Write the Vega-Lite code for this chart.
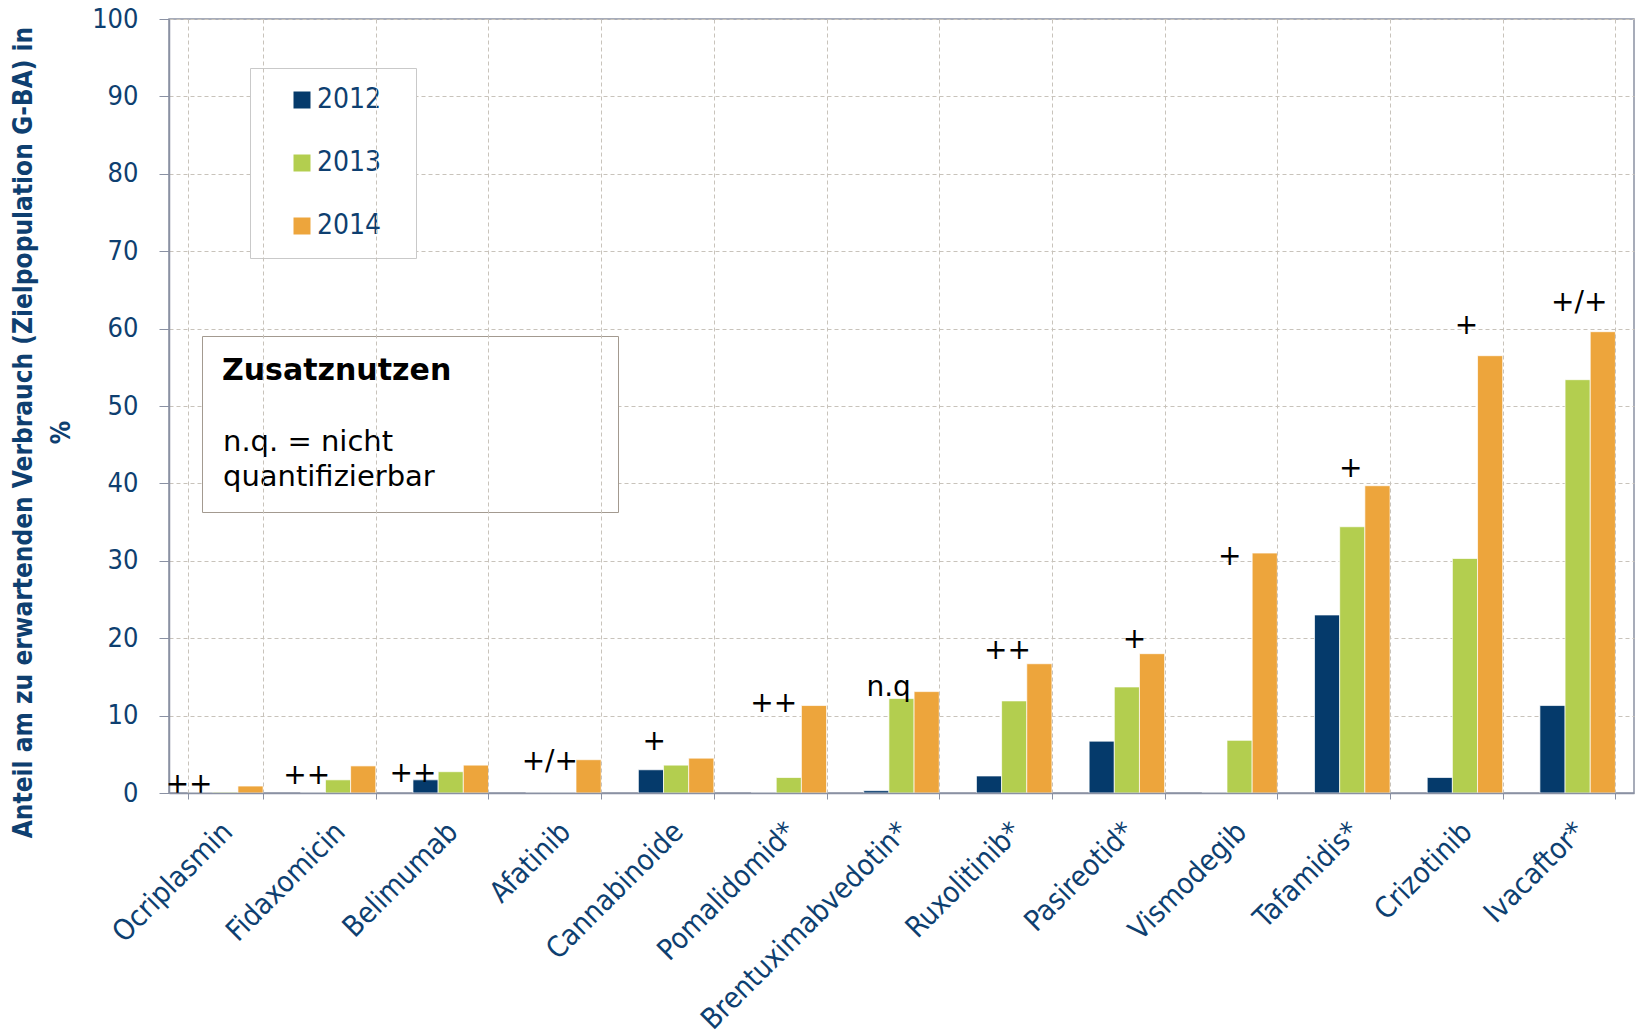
{
  "$schema": "https://vega.github.io/schema/vega-lite/v6.json",
  "width": 1465,
  "height": 774,
  "autosize": {"type": "none"},
  "padding": {"left": 169, "top": 19, "right": 3, "bottom": 242},
  "background": "white",
  "config": {"font": "DejaVu Sans", "view": {"stroke": "#8a91a3", "strokeWidth": 1.5}},
  "datasets": {
    "bars": [
      {"drug": "Ocriplasmin", "year": "2012", "value": 0},
      {"drug": "Ocriplasmin", "year": "2013", "value": 0.1},
      {"drug": "Ocriplasmin", "year": "2014", "value": 0.9},
      {"drug": "Fidaxomicin", "year": "2012", "value": 0},
      {"drug": "Fidaxomicin", "year": "2013", "value": 1.7},
      {"drug": "Fidaxomicin", "year": "2014", "value": 3.5},
      {"drug": "Belimumab", "year": "2012", "value": 1.7},
      {"drug": "Belimumab", "year": "2013", "value": 2.75},
      {"drug": "Belimumab", "year": "2014", "value": 3.6},
      {"drug": "Afatinib", "year": "2012", "value": 0},
      {"drug": "Afatinib", "year": "2013", "value": 0},
      {"drug": "Afatinib", "year": "2014", "value": 4.3},
      {"drug": "Cannabinoide", "year": "2012", "value": 3.0},
      {"drug": "Cannabinoide", "year": "2013", "value": 3.6},
      {"drug": "Cannabinoide", "year": "2014", "value": 4.5},
      {"drug": "Pomalidomid*", "year": "2012", "value": 0},
      {"drug": "Pomalidomid*", "year": "2013", "value": 2.0},
      {"drug": "Pomalidomid*", "year": "2014", "value": 11.3},
      {"drug": "Brentuximabvedotin*", "year": "2012", "value": 0.3},
      {"drug": "Brentuximabvedotin*", "year": "2013", "value": 12.2},
      {"drug": "Brentuximabvedotin*", "year": "2014", "value": 13.1},
      {"drug": "Ruxolitinib*", "year": "2012", "value": 2.2},
      {"drug": "Ruxolitinib*", "year": "2013", "value": 11.9},
      {"drug": "Ruxolitinib*", "year": "2014", "value": 16.7},
      {"drug": "Pasireotid*", "year": "2012", "value": 6.7},
      {"drug": "Pasireotid*", "year": "2013", "value": 13.7},
      {"drug": "Pasireotid*", "year": "2014", "value": 18.0},
      {"drug": "Vismodegib", "year": "2012", "value": 0},
      {"drug": "Vismodegib", "year": "2013", "value": 6.8},
      {"drug": "Vismodegib", "year": "2014", "value": 31.0},
      {"drug": "Tafamidis*", "year": "2012", "value": 23.0},
      {"drug": "Tafamidis*", "year": "2013", "value": 34.4},
      {"drug": "Tafamidis*", "year": "2014", "value": 39.7},
      {"drug": "Crizotinib", "year": "2012", "value": 2.0},
      {"drug": "Crizotinib", "year": "2013", "value": 30.3},
      {"drug": "Crizotinib", "year": "2014", "value": 56.5},
      {"drug": "Ivacaftor*", "year": "2012", "value": 11.3},
      {"drug": "Ivacaftor*", "year": "2013", "value": 53.4},
      {"drug": "Ivacaftor*", "year": "2014", "value": 59.6}
    ],
    "labels": [
      {"drug": "Ocriplasmin", "label": "++", "pos": 0.02, "ly": 1.0},
      {"drug": "Fidaxomicin", "label": "++", "pos": 0.085, "ly": 2.2},
      {"drug": "Belimumab", "label": "++", "pos": 0.0, "ly": 2.45},
      {"drug": "Afatinib", "label": "+/+", "pos": 0.32, "ly": 4.0},
      {"drug": "Cannabinoide", "label": "+", "pos": 0.21, "ly": 6.6},
      {"drug": "Pomalidomid*", "label": "++", "pos": 0.3, "ly": 11.5},
      {"drug": "Brentuximabvedotin*", "label": "n.q", "pos": 0.33, "ly": 13.6},
      {"drug": "Ruxolitinib*", "label": "++", "pos": 0.41, "ly": 18.3},
      {"drug": "Pasireotid*", "label": "+", "pos": 0.6, "ly": 19.8},
      {"drug": "Vismodegib", "label": "+", "pos": 0.37, "ly": 30.5},
      {"drug": "Tafamidis*", "label": "+", "pos": 0.48, "ly": 41.9},
      {"drug": "Crizotinib", "label": "+", "pos": 0.52, "ly": 60.3},
      {"drug": "Ivacaftor*", "label": "+/+", "pos": 0.52, "ly": 63.3}
    ]
  },
  "layer": [
    {
      "data": {"name": "bars"},
      "mark": {"type": "bar", "stroke": "white", "strokeWidth": 0.7},
      "encoding": {
        "x": {
          "field": "drug", "type": "nominal",
          "scale": {
            "domain": ["Ocriplasmin", "Fidaxomicin", "Belimumab", "Afatinib", "Cannabinoide", "Pomalidomid*", "Brentuximabvedotin*", "Ruxolitinib*", "Pasireotid*", "Vismodegib", "Tafamidis*", "Crizotinib", "Ivacaftor*"],
            "paddingInner": 0.33, "paddingOuter": 0.165
          },
          "axis": {
            "title": null, "labelAngle": -45, "labelFont": "DejaVu Sans Condensed", "labelFontSize": 29, "labelColor": "#0e3f70",
            "tickBand": "extent", "tickSize": 6, "tickColor": "#8a91a3", "domainColor": "#8a91a3", "domainWidth": 1.5,
            "labelPadding": 18, "labelOffset": -8, "grid": true, "gridColor": "#c8c3bb", "gridDash": [4, 3], "labelLimit": 400, "zindex": 1
          }
        },
        "xOffset": {"field": "year", "type": "nominal", "scale": {"paddingInner": 0, "paddingOuter": 0}},
        "y": {
          "field": "value", "type": "quantitative",
          "scale": {"domain": [0, 100], "nice": false},
          "axis": {
            "values": [0, 10, 20, 30, 40, 50, 60, 70, 80, 90, 100],
            "title": ["Anteil am zu erwartenden Verbrauch (Zielpopulation G-BA) in", "%"],
            "titleFont": "DejaVu Sans Condensed", "titleFontSize": 26, "titleFontWeight": "bold", "titleColor": "#0e3f70", "titleLineHeight": 38,
            "titlePadding": 17, "titleY": 413,
            "labelFont": "DejaVu Sans Condensed", "labelFontSize": 27, "labelColor": "#0e3f70", "labelPadding": 21,
            "tickSize": 10, "tickColor": "#8a91a3", "domainColor": "#8a91a3", "domainWidth": 1.5,
            "gridColor": "#c8c3bb", "gridDash": [4, 3]
          }
        },
        "color": {
          "field": "year", "type": "nominal",
          "scale": {"domain": ["2012", "2013", "2014"], "range": ["#053a6b", "#b3ce4f", "#eda53c"]},
          "legend": {
            "orient": "none", "legendX": 81, "legendY": 49, "title": null, "direction": "vertical",
            "symbolType": "square", "symbolSize": 289, "symbolStrokeWidth": 0,
            "labelFont": "DejaVu Sans Condensed", "labelFontSize": 28, "labelColor": "#0e3f70", "padding": 18, "rowPadding": 35,
            "symbolOffset": 20, "labelOffset": 1, "strokeColor": "#c9c9c9", "fillColor": "white",
            "labelExpr": "datum.label + '\u00a0\u00a0\u200b'"
          }
        }
      }
    },
    {
      "data": {"name": "labels"},
      "mark": {"type": "text", "fontSize": 28, "color": "black", "baseline": "middle", "align": "center"},
      "encoding": {
        "x": {"field": "drug", "type": "nominal"},
        "xOffset": {"field": "pos", "type": "quantitative", "scale": {"domain": [0, 1]}},
        "y": {"field": "ly", "type": "quantitative"},
        "text": {"field": "label"}
      }
    },
    {
      "data": {"name": "labels"},
      "mark": {"type": "point", "opacity": 0},
      "encoding": {
        "x": {"field": "drug", "type": "nominal"},
        "y": {"field": "ly", "type": "quantitative"},
        "shape": {
          "datum": "n.q. = nicht", "type": "nominal",
          "scale": {"domain": ["n.q. = nicht", "quantifizierbar"]},
          "legend": {
            "orient": "none", "legendX": 33, "legendY": 317,
            "title": "Zusatznutzen\u00a0\u00a0\u00a0\u00a0\u00a0\u00a0\u00a0\u00a0\u00a0\u00a0\u00a0\u00a0\u00a0\u00a0\u200b",
            "titleFontSize": 30, "titleFontWeight": "bold", "titleColor": "black", "titlePadding": 41, "titleLimit": 2000,
            "labelFontSize": 29, "labelColor": "black", "labelLimit": 2000,
            "symbolOpacity": 0, "symbolSize": 1, "symbolOffset": 0, "labelOffset": -28, "symbolStrokeWidth": 0,
            "rowPadding": 5, "padding": 20, "strokeColor": "#a39a90", "fillColor": "white"
          }
        }
      }
    }
  ],
  "resolve": {"scale": {"xOffset": "independent"}}
}
